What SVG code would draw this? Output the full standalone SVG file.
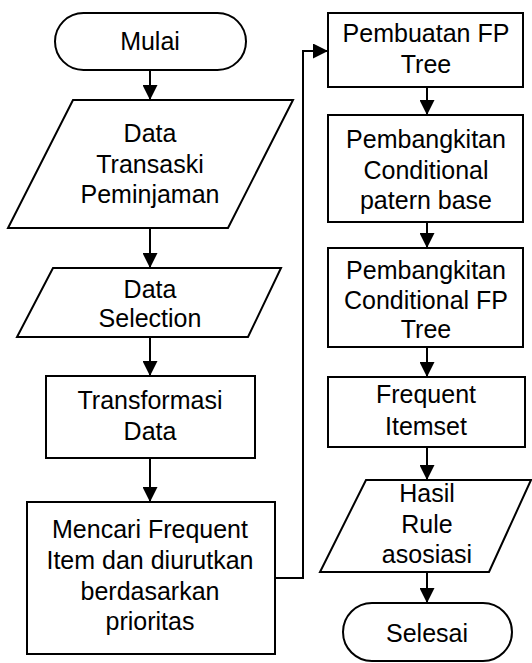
<svg xmlns="http://www.w3.org/2000/svg" width="532" height="663" viewBox="0 0 532 663">
<defs>
<style>
.s{fill:#fff;stroke:#000;stroke-width:2}
.t{font-family:"Liberation Sans",Arial,sans-serif;font-size:25px;fill:#000;text-anchor:middle}
.c{fill:none;stroke:#000;stroke-width:2}
</style>
<marker id="ah" markerWidth="15" markerHeight="15" refX="15" refY="7.5" orient="auto" markerUnits="userSpaceOnUse"><path d="M0,0 L15,7.5 L0,15 z" fill="#000"/></marker>
</defs>
<rect width="532" height="663" fill="#fff"/>
<g id="mulai"><rect class="s" x="55" y="13" width="191" height="57" rx="28.5"/><text class="t" x="150" y="50">Mulai</text></g>
<g id="data-transaksi"><polygon class="s" points="73,100 293,100 228,228 8,228"/><text class="t" x="150" y="142">Data</text><text class="t" x="150" y="173">Transaski</text><text class="t" x="150" y="203">Peminjaman</text></g>
<g id="data-selection"><polygon class="s" points="53,268 281,268 248,337 17,337"/><text class="t" x="150" y="298">Data</text><text class="t" x="150" y="327">Selection</text></g>
<g id="transformasi"><rect class="s" x="46" y="376" width="209" height="82"/><text class="t" x="150" y="409">Transformasi</text><text class="t" x="150" y="440">Data</text></g>
<g id="mencari"><rect class="s" x="27" y="502" width="248" height="152"/><text class="t" x="150" y="538">Mencari Frequent</text><text class="t" x="150" y="569">Item dan diurutkan</text><text class="t" x="150" y="600">berdasarkan</text><text class="t" x="150" y="630">prioritas</text></g>
<g id="fp-tree"><rect class="s" x="328" y="13" width="195" height="74"/><text class="t" x="426" y="42">Pembuatan FP</text><text class="t" x="426" y="73">Tree</text></g>
<g id="cond-pattern"><rect class="s" x="328" y="115" width="195" height="107"/><text class="t" x="426" y="148">Pembangkitan</text><text class="t" x="426" y="179">Conditional</text><text class="t" x="426" y="209">patern base</text></g>
<g id="cond-fp"><rect class="s" x="328" y="248" width="195" height="99"/><text class="t" x="426" y="279">Pembangkitan</text><text class="t" x="426" y="309">Conditional FP</text><text class="t" x="426" y="338">Tree</text></g>
<g id="frequent"><rect class="s" x="328" y="377" width="197" height="70"/><text class="t" x="426" y="403">Frequent</text><text class="t" x="426" y="435">Itemset</text></g>
<g id="hasil"><polygon class="s" points="366,480 531,480 489,572 320,572"/><text class="t" x="427" y="502">Hasil</text><text class="t" x="427" y="533">Rule</text><text class="t" x="427" y="563">asosiasi</text></g>
<g id="selesai"><rect class="s" x="343" y="603" width="169" height="58" rx="29"/><text class="t" x="427" y="642">Selesai</text></g>
<g id="connectors">
<line class="c" x1="150" y1="70" x2="150" y2="100" marker-end="url(#ah)"/>
<line class="c" x1="150" y1="228" x2="150" y2="268" marker-end="url(#ah)"/>
<line class="c" x1="150" y1="337" x2="150" y2="376" marker-end="url(#ah)"/>
<line class="c" x1="150" y1="458" x2="150" y2="502" marker-end="url(#ah)"/>
<polyline class="c" points="275,578 303,578 303,51 328,51" marker-end="url(#ah)"/>
<line class="c" x1="427" y1="87" x2="427" y2="115" marker-end="url(#ah)"/>
<line class="c" x1="427" y1="222" x2="427" y2="248" marker-end="url(#ah)"/>
<line class="c" x1="427" y1="347" x2="427" y2="377" marker-end="url(#ah)"/>
<line class="c" x1="427" y1="447" x2="427" y2="480" marker-end="url(#ah)"/>
<line class="c" x1="427" y1="572" x2="427" y2="603" marker-end="url(#ah)"/>
</g>
</svg>
